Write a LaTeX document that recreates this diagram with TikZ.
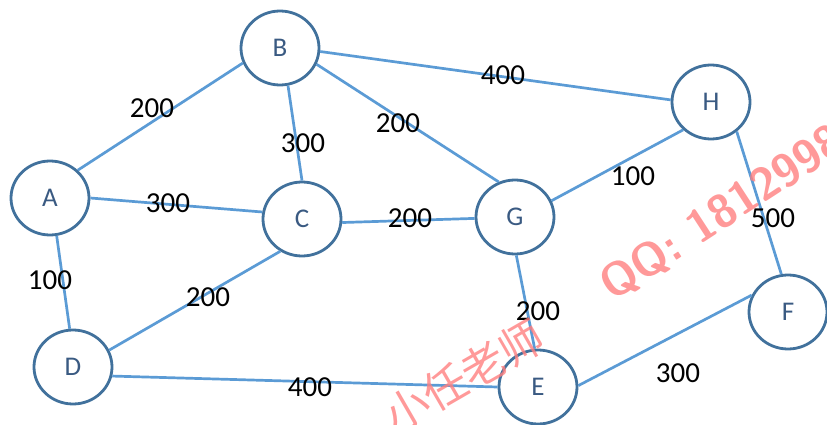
\documentclass[tikz,border=0pt]{standalone}
\usepackage{fontspec}
\setmainfont{Carlito}
\newfontfamily\cjk{Noto Sans CJK SC}
\usetikzlibrary{shapes.geometric}
\definecolor{edgecol}{HTML}{5B9BD5}
\definecolor{nodeline}{HTML}{41719C}
\definecolor{nodetext}{HTML}{3A5A82}
\definecolor{wmark}{HTML}{FF7F7F}
\tikzset{
  vtx/.style={ellipse, draw=nodeline, line width=2.8pt, minimum width=78pt, minimum height=74pt, inner sep=0pt, text=nodetext, font=\fontsize{27}{27}\selectfont},
  edge/.style={draw=edgecol, line width=2.7pt},
  wlabel/.style={inner sep=0pt, text=black, font=\fontsize{29}{29}\selectfont},
  wm/.style={text=wmark, opacity=0.8, inner sep=0pt}
}
\begin{document}
\begin{tikzpicture}[x=1pt,y=-1pt]
\useasboundingbox (0,0) rectangle (827,425);
% nodes
\node[vtx] (A) at (50,198) {A};
\node[vtx] (B) at (280,48) {B};
\node[vtx] (C) at (302,219) {C};
\node[vtx] (D) at (73,367) {D};
\node[vtx] (G) at (515,217) {G};
\node[vtx] (H) at (711,102) {H};
\node[vtx] (F) at (788,312) {F};
\node[vtx] (E) at (538,387) {E};
% edges
\draw[edge] (A.45) -- (B.202);
\draw[edge] (A.0) -- (C.170);
\draw[edge] (A.280) -- (D.95);
\draw[edge] (B.282) -- (C.90);
\draw[edge] (B.336) -- (G.115);
\draw[edge] (B.355) -- (H.177);
\draw[edge] (C.355) -- (G.182);
\draw[edge] (C.236) -- (D.25);
\draw[edge] (D.347) -- (E.180);
\draw[edge] (G.24) -- (H.225);
\draw[edge] (G.272) -- (E.95);
\draw[edge] (H.311) -- (F.100);
\draw[edge] (E.2) -- (F.155);
% weights
\node[wlabel] (lab) at (152,108) {200};
\node[wlabel] (lac) at (168,203) {300};
\node[wlabel] (lad) at (50,280) {100};
\node[wlabel] (lbc) at (303,143) {300};
\node[wlabel] (lbg) at (398,123) {200};
\node[wlabel] (lcd) at (208,297) {200};
\node[wlabel] (lde) at (310,387) {400};
\node[wlabel] (lcg) at (410,218) {200};
\node[wlabel] (lbh) at (503,75) {400};
\node[wlabel] (lgh) at (633,176) {100};
\node[wlabel] (lhf) at (773,218) {500};
\node[wlabel] (lge) at (538,311) {200};
\node[wlabel] (lef) at (678,373) {300};
% watermark
\node[wm, rotate=33, anchor=base west, font=\fontsize{46}{46}\selectfont\sffamily\bfseries] (wq) at (612,302) {QQ: 1812998};
\node[wm, rotate=30, anchor=center, font=\fontsize{44}{44}\selectfont\cjk] (wc) at (464,376) {小任老师};
\end{tikzpicture}
\end{document}
